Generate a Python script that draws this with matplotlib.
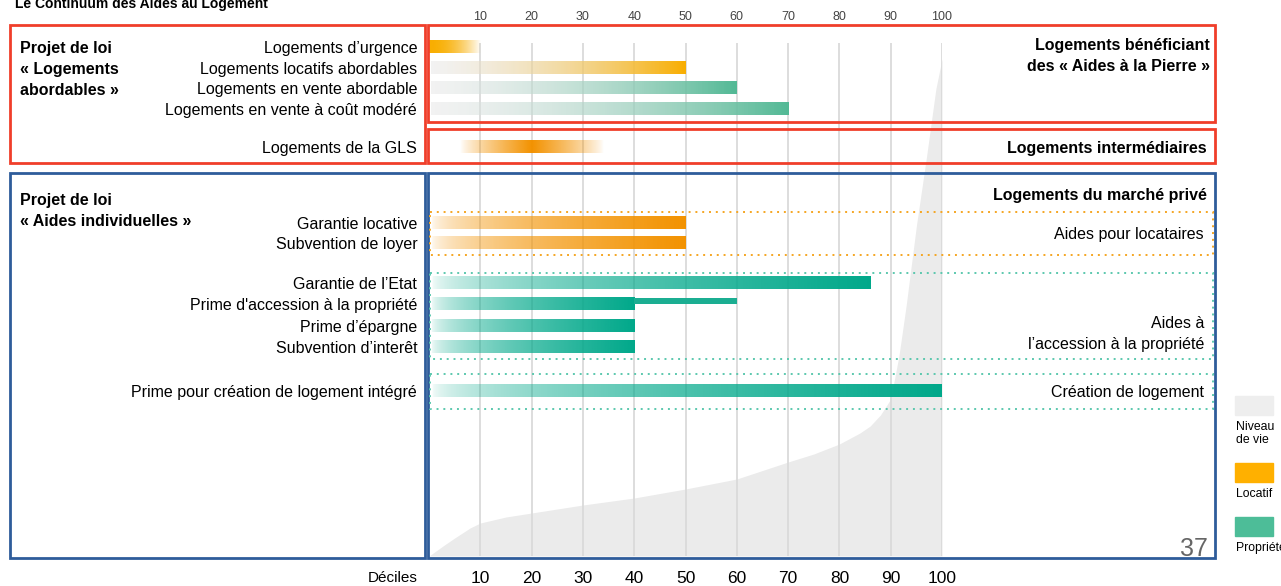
import matplotlib.pyplot as plt
import numpy as np
from matplotlib.colors import to_rgba
from matplotlib.patches import Rectangle
from matplotlib.transforms import Affine2D

plt.rcParams['font.family'] = ['Liberation Sans', 'DejaVu Sans']

# Aides à la pierre (fin de la barre en décile)
labels_pierre = ["Logements d’urgence", "Logements locatifs abordables",
                 "Logements en vente abordable", "Logements en vente à coût modéré"]
fin_pierre = [10, 50, 60, 70]
type_pierre = ["locatif", "locatif", "propriete", "propriete"]

# Logements intermédiaires (GLS)
gls_debut, gls_pic, gls_fin = 6, 20, 34

# Aides individuelles
labels_indiv = ["Garantie locative", "Subvention de loyer", "Garantie de l’Etat",
                "Prime d'accession à la propriété", "Prime d’épargne",
                "Subvention d’interêt", "Prime pour création de logement intégré"]
fin_indiv = [50, 50, 86, 40, 40, 40, 100]
type_indiv = ["locatif", "locatif", "propriete", "propriete", "propriete",
              "propriete", "propriete"]
accession_plafond = 60

# Niveau de vie par décile (indice)
deciles_nv = [0, 3, 5, 8, 10, 15, 20, 30, 40, 50, 60, 70, 75, 80, 84, 86, 88, 90,
              91.6, 93, 95, 97, 98.8, 100]
niveau_vie = [0, 11, 18, 28, 33, 39, 43, 51, 58, 67, 77, 94, 102, 112, 123, 130,
              141, 157, 200, 250, 330, 400, 467, 497]

deciles = list(range(10, 101, 10))

# Mise en page (pixels)
W, H = 1281, 586
X0, X100 = 429, 942
Y_TOP, Y_BOT = 36, 556
y_pierre = [47, 68, 88, 109]
y_gls = 147
y_indiv = [223, 243, 283, 304, 326, 347, 391]
bar_h = 13

ORANGE = "#F9AE00"
ORANGE_2 = "#F39200"
VERT = "#52B995"
VERT_2 = "#00A88A"
ROUGE = "#F03E2A"
BLEU = "#2E5C9A"
GRIS = "#EBEBEB"

fig = plt.figure(figsize=(W / 100, H / 100), dpi=100)
P = Affine2D().scale(1 / W, -1 / H).translate(0, 1) + fig.transFigure
rect = [X0 / W, 1 - Y_BOT / H, (X100 - X0) / W, (Y_BOT - Y_TOP) / H]

# Fond : courbe du niveau de vie + grille
ax_nv = fig.add_axes(rect, zorder=0)
ax_nv.fill_between(deciles_nv, 0, niveau_vie, color=GRIS, lw=0)
ax_nv.vlines(deciles, 0, Y_BOT - 43, color="#DADADA", lw=1.3)
ax_nv.set_xlim(0, 100)
ax_nv.set_ylim(0, Y_BOT - Y_TOP)
ax_nv.axis("off")

ax = fig.add_axes(rect, zorder=1)
ax.patch.set_visible(False)
ax.set_xlim(0, 100)
ax.set_ylim(Y_BOT, Y_TOP)
for s in ax.spines.values():
    s.set_visible(False)
ax.set_yticks([])
ax.set_xticks(deciles)
ax.tick_params(axis="x", length=0, pad=11, labelsize=12.5)
sec = ax.secondary_xaxis("top")
sec.set_xticks(deciles)
sec.tick_params(length=0, pad=9, labelsize=9, labelcolor="#444444")
for s in sec.spines.values():
    s.set_visible(False)


def gradient_bar(x0, x1, yc, c0, c1, profil, h=bar_h):
    t = np.linspace(0, 1, 300)
    f = profil(t)[:, None]
    rgba = np.array(to_rgba(c0))[None, :] * (1 - f) + np.array(to_rgba(c1))[None, :] * f
    ax.imshow(rgba[None, :, :], extent=(x0, x1, yc + h / 2, yc - h / 2),
              aspect="auto", interpolation="bilinear", zorder=3)


def etiquette(y, s):
    ax.text(-2.3, y, s, ha="right", va="center_baseline", fontsize=11.5, clip_on=False)


# Barres « aides à la pierre »
for lab, fin, typ, y in zip(labels_pierre, fin_pierre, type_pierre, y_pierre):
    if lab == "Logements d’urgence":
        gradient_bar(0, fin, y, to_rgba(ORANGE, 1), to_rgba(ORANGE, 0), lambda t: t ** 2)
    else:
        c = ORANGE if typ == "locatif" else VERT
        gradient_bar(0.4, fin, y, to_rgba("#E6E6E6", 0.5), to_rgba(c, 1), lambda t: t ** 1.2)
    etiquette(y, lab)

# GLS
t_pic = (gls_pic - gls_debut) / (gls_fin - gls_debut)
gradient_bar(gls_debut, gls_fin, y_gls, to_rgba(ORANGE_2, 0), to_rgba(ORANGE_2, 1),
             lambda t: np.clip(1 - np.abs(t - t_pic) / t_pic, 0, 1) ** 0.8)
etiquette(y_gls, "Logements de la GLS")

# Barres « aides individuelles »
for lab, fin, typ, y in zip(labels_indiv, fin_indiv, type_indiv, y_indiv):
    c = ORANGE_2 if typ == "locatif" else VERT_2
    gradient_bar(0.4, fin, y, to_rgba(c, 0), to_rgba(c, 1), lambda t: t ** 0.5)
    etiquette(y, lab)
    if lab.startswith("Prime d'accession"):
        ax.barh(y - bar_h / 2 + 3, accession_plafond - fin, left=fin, height=6,
                color="#1BAE92", zorder=3)


def cadre(x0, y0, x1, y1, color, lw=2.0, ls="-"):
    ax.add_patch(Rectangle((x0, y0), x1 - x0, y1 - y0, transform=P, fill=False,
                           ec=color, lw=lw, ls=ls, clip_on=False, zorder=5))


def texte(x, y, s, **kw):
    kw.setdefault("fontsize", 11.5)
    kw.setdefault("va", "center_baseline")
    ax.text(x, y, s, transform=P, clip_on=False, **kw)


# Cadres
cadre(10, 25, 425, 163, ROUGE)
cadre(428, 25, 1215, 122, ROUGE)
cadre(428, 129, 1215, 163, ROUGE)
cadre(10, 173, 425, 558, BLEU)
cadre(428, 173, 1215, 558, BLEU)
cadre(430, 212, 1213, 255, "#F5A623", lw=1.4, ls=(0, (1, 2.5)))
cadre(430, 273, 1213, 359, "#5CC8AE", lw=1.4, ls=(0, (1, 2.5)))
cadre(430, 374, 1213, 409, "#5CC8AE", lw=1.4, ls=(0, (1, 2.5)))

# Titres
texte(15, 8, "Le Continuum des Aides au Logement", fontsize=10, fontweight="bold", va="baseline")
for i, s in enumerate(["Projet de loi", "« Logements", "abordables »"]):
    texte(20, 47 + 21 * i, s, fontweight="bold")
for i, s in enumerate(["Projet de loi", "« Aides individuelles »"]):
    texte(20, 199 + 21 * i, s, fontweight="bold")

texte(1210, 44, "Logements bénéficiant", fontweight="bold", ha="right")
texte(1210, 65, "des « Aides à la Pierre »", fontweight="bold", ha="right")
texte(1207, 147, "Logements intermédiaires", fontweight="bold", ha="right")
texte(1207, 194, "Logements du marché privé", fontweight="bold", ha="right")
texte(1204, 233, "Aides pour locataires", ha="right")
texte(1204, 322, "Aides à", ha="right")
texte(1204, 343, "l’accession à la propriété", ha="right")
texte(1204, 391, "Création de logement", ha="right")
texte(418, 577, "Déciles", ha="right", fontsize=11)
texte(1208, 547, "37", ha="right", fontsize=18, color="#666666")

# Légende
for y0, c, s in [(396, "#EEEEEE", "Niveau\nde vie"), (463, "#FFB000", "Locatif"),
                 (517, "#4DBD98", "Propriété")]:
    ax.add_patch(Rectangle((1235, y0), 38, 19, transform=P, color=c, clip_on=False))
    texte(1236, y0 + 25, s, fontsize=8.8, va="top", linespacing=1.15)

fig.savefig("out.png", dpi=100, facecolor="white")
